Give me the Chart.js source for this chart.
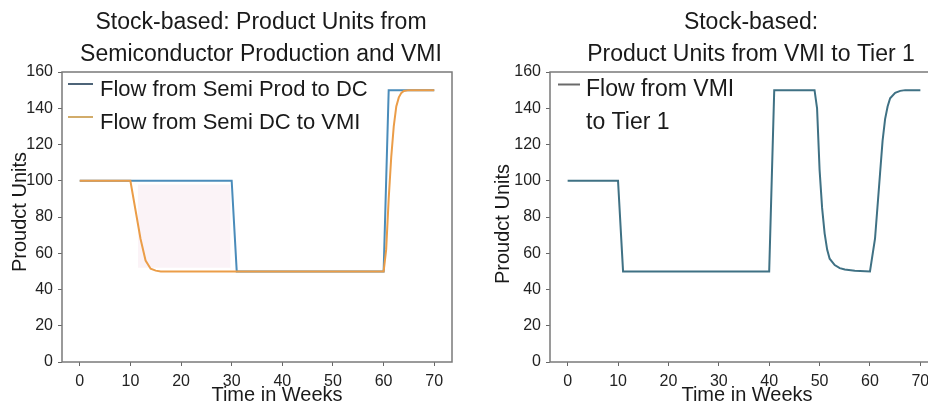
<!DOCTYPE html>
<html>
<head>
<meta charset="utf-8">
<script src="https://cdn.jsdelivr.net/npm/chart.js@4.4.1/dist/chart.umd.min.js"></script>
<style>
  html, body { margin: 0; padding: 0; background: #ffffff; overflow: hidden; width: 928px; height: 408px; }
  #c1 { position: absolute; left: 0; top: 0; }
  #c2 { position: absolute; left: 464px; top: 0; }
</style>
</head>
<body>
<canvas id="c1" width="464" height="408"></canvas>
<canvas id="c2" width="480" height="408"></canvas>
<script>
// ---------- DATA ----------
const xTicks = [0, 10, 20, 30, 40, 50, 60, 70];
const yTicks = [0, 20, 40, 60, 80, 100, 120, 140, 160];

// Left chart: Semi Prod -> DC
const semiProdWeeks = [0, 30, 31, 60, 61, 70];
const semiProdUnits = [100, 100, 50, 50, 150, 150];

// Left chart: Semi DC -> VMI
const semiDcWeeks = [0, 10, 11, 12, 13, 14, 15, 16, 60, 60.5, 61, 61.5, 62, 62.5, 63, 63.5, 64, 65, 70];
const semiDcUnits = [100, 100, 84, 68, 56, 51.5, 50.4, 50, 50, 62, 90, 113, 130, 141, 146, 148.5, 149.5, 150, 150];

// Left chart: faint shaded band
const shadeWeeks = [11.5, 29.8];
const shadeTop = [98, 98];
const shadeBase = 52;

// Right chart: VMI -> Tier 1
const vmiWeeks = [0, 10, 11, 40, 41, 49, 49.5, 50, 50.5, 51, 51.5, 52, 53, 54, 55, 57, 60, 61, 62, 62.5, 63, 63.5, 64, 65, 66, 67, 70];
const vmiUnits = [100, 100, 50, 50, 150, 150, 140, 106, 85, 71, 62, 57, 53.5, 51.8, 51, 50.4, 50, 68, 104, 122, 134, 141, 145.5, 148.5, 149.6, 150, 150];

const leftTitle = ["Stock-based: Product Units from", "Semiconductor Production and VMI"];
const rightTitle = ["Stock-based:", "Product Units from VMI to Tier 1"];
const leftLegend = [["Flow from Semi Prod to DC"], ["Flow from Semi DC to VMI"]];
const rightLegend = [["Flow from VMI", "to Tier 1"]];
const xLabel = "Time in Weeks";
const yLabel = "Proudct Units";

// ---------- STYLE ----------
const FONT = "'Liberation Sans', Arial, Helvetica, sans-serif";
const BLUE = '#4a8cba';
const ORANGE = '#eb9d48';
const TEAL = '#3f7184';
const FRAME = '#7a7a7a';

function pts(xs, ys) { return xs.map((x, i) => ({ x: x, y: ys[i] })); }

const framePlugin = {
  id: 'frame',
  afterDatasetsDraw(chart) {
    const { ctx, chartArea: a } = chart;
    ctx.save();
    ctx.strokeStyle = FRAME;
    ctx.lineWidth = 1.5;
    ctx.strokeRect(a.left, a.top, a.right - a.left, a.bottom - a.top);
    ctx.restore();
  }
};

function textPlugin(cfg) {
  return {
    id: 'texts',
    afterDraw(chart) {
      const { ctx, chartArea: a } = chart;
      ctx.save();
      ctx.fillStyle = '#1a1a1a';
      ctx.textBaseline = 'middle';
      // title
      ctx.textAlign = 'center';
      ctx.font = cfg.titleSize + 'px ' + FONT;
      cfg.title.forEach((t, i) => ctx.fillText(t, cfg.titleX, cfg.titleY + i * 32));
      // x label
      ctx.font = '20px ' + FONT;
      ctx.fillText(xLabel, cfg.xLabelX, 395);
      // y label
      ctx.save();
      ctx.translate(cfg.yLabelX, cfg.yLabelY);
      ctx.rotate(-Math.PI / 2);
      ctx.fillText(yLabel, 0, 0);
      ctx.restore();
      // legend
      ctx.textAlign = 'left';
      ctx.font = cfg.legendSize + 'px ' + FONT;
      let row = 0;
      cfg.legend.forEach((lines, i) => {
        const y0 = cfg.legendY + row * cfg.legendStep;
        ctx.strokeStyle = cfg.handleColors[i];
        ctx.lineWidth = 2;
        ctx.beginPath();
        ctx.moveTo(a.left + cfg.handleX0, y0 - 5.5);
        ctx.lineTo(a.left + cfg.handleX1, y0 - 5.5);
        ctx.stroke();
        lines.forEach((ln, j) => {
          ctx.fillText(ln, a.left + cfg.textX, y0 + j * cfg.legendStep);
        });
        row += lines.length;
      });
      ctx.restore();
    }
  };
}

function axes(yWidth) {
  const tickFont = { family: FONT, size: 16 };
  return {
    x: {
      type: 'linear', min: -3.5, max: 73.5,
      afterBuildTicks: s => { s.ticks = xTicks.map(v => ({ value: v })); },
      afterFit: s => { s.height = 46; },
      grid: { display: true, drawOnChartArea: false, drawTicks: true, tickLength: 4, color: '#666', lineWidth: 1 },
      border: { display: false },
      ticks: { font: tickFont, color: '#222', padding: 6, maxRotation: 0, autoSkip: false }
    },
    y: {
      type: 'linear', min: 0, max: 160,
      afterBuildTicks: s => { s.ticks = yTicks.map(v => ({ value: v })); },
      afterFit: s => { s.width = yWidth; },
      grid: { display: true, drawOnChartArea: false, drawTicks: true, tickLength: 4, color: '#666', lineWidth: 1 },
      border: { display: false },
      ticks: { font: tickFont, color: '#222', padding: 5, autoSkip: false }
    }
  };
}

const common = {
  animation: false, responsive: false, maintainAspectRatio: false, devicePixelRatio: 1,
  plugins: { legend: { display: false }, title: { display: false }, tooltip: { enabled: false } },
  elements: { point: { radius: 0 }, line: { tension: 0 } }
};

new Chart(document.getElementById('c1'), {
  type: 'line',
  data: {
    datasets: [
      { label: 'shade', data: pts(shadeWeeks, shadeTop), borderWidth: 0, borderColor: 'rgba(0,0,0,0)',
        backgroundColor: 'rgba(243,214,228,0.3)', fill: { value: shadeBase }, order: 5 },
      { label: leftLegend[0][0], data: pts(semiProdWeeks, semiProdUnits), borderColor: BLUE, borderWidth: 2, fill: false, order: 2 },
      { label: leftLegend[1][0], data: pts(semiDcWeeks, semiDcUnits), borderColor: ORANGE, borderWidth: 2, fill: false, order: 1 }
    ]
  },
  options: Object.assign({}, common, {
    layout: { padding: { top: 72, right: 12, left: 0, bottom: 0 } },
    scales: axes(62)
  }),
  plugins: [framePlugin, textPlugin({
    title: leftTitle, titleSize: 23, titleX: 261, titleY: 22.5,
    xLabelX: 277, yLabelX: 20, yLabelY: 212,
    legend: leftLegend, legendDatasets: [1, 2], handleColors: ['#4e6478', '#d2ac6a'],
    legendSize: 22, legendY: 89.5, legendStep: 33, handleX0: 6, handleX1: 31, textX: 38
  })]
});

new Chart(document.getElementById('c2'), {
  type: 'line',
  data: {
    datasets: [
      { label: rightLegend[0].join(' '), data: pts(vmiWeeks, vmiUnits), borderColor: TEAL, borderWidth: 2, fill: false }
    ]
  },
  options: Object.assign({}, common, {
    layout: { padding: { top: 72, right: 6, left: 0, bottom: 0 } },
    scales: axes(86)
  }),
  plugins: [framePlugin, textPlugin({
    title: rightTitle, titleSize: 23, titleX: 287, titleY: 22.5,
    xLabelX: 283, yLabelX: 39.5, yLabelY: 224,
    legend: rightLegend, legendDatasets: [0], handleColors: ['#6a6a6a'],
    legendSize: 23, legendY: 90, legendStep: 33, handleX0: 8, handleX1: 30, textX: 36
  })]
});
</script>
</body>
</html>
